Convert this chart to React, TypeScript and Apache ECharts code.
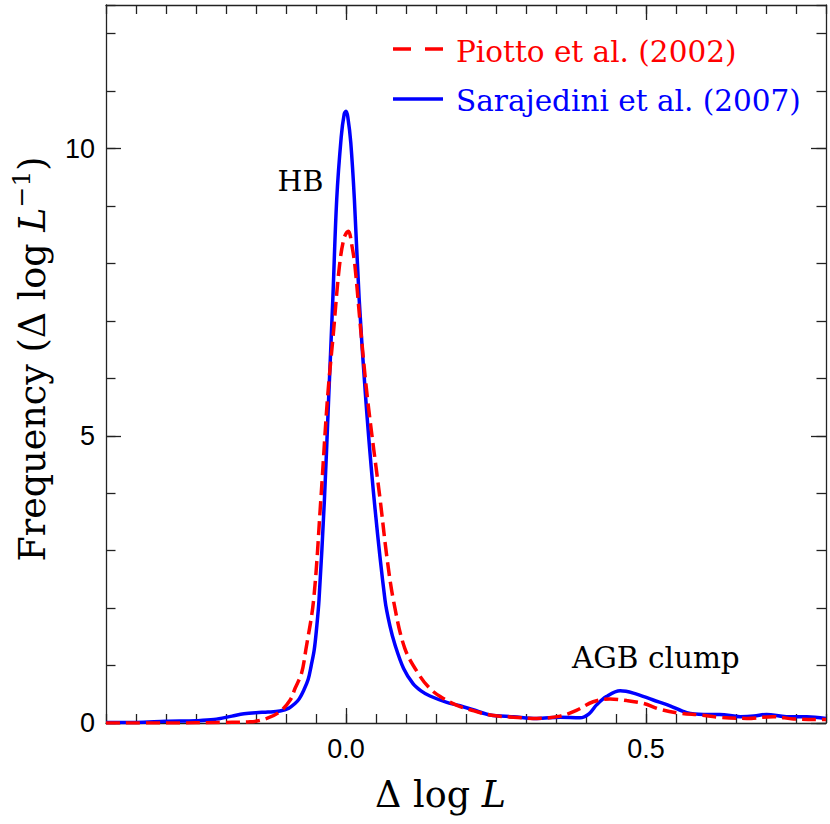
import React, { useEffect, useRef } from "react";
import * as echarts from "echarts";

// Sarajedini et al. (2007) — blue solid
const sarajediniX = [-0.40, -0.35, -0.30, -0.25, -0.22, -0.19, -0.17, -0.15, -0.13, -0.11, -0.095, -0.085, -0.078, -0.07, -0.063, -0.058, -0.053, -0.049, -0.045, -0.036, -0.029, -0.022, -0.0155, -0.008, -0.003, 0.0, 0.003, 0.008, 0.014, 0.022, 0.033, 0.047, 0.065, 0.073, 0.082, 0.096, 0.112, 0.125, 0.14, 0.168, 0.19, 0.212, 0.24, 0.279, 0.318, 0.357, 0.39, 0.405, 0.418, 0.434, 0.457, 0.479, 0.512, 0.54, 0.568, 0.596, 0.623, 0.657, 0.68, 0.701, 0.734, 0.768, 0.80];
const sarajediniY = [0.01, 0.01, 0.03, 0.04, 0.06, 0.12, 0.16, 0.18, 0.19, 0.21, 0.26, 0.34, 0.42, 0.58, 0.76, 1.0, 1.27, 1.65, 2.14, 3.88, 5.63, 7.37, 9.11, 10.2, 10.6, 10.65, 10.55, 10.1, 9.11, 7.37, 5.63, 3.88, 2.14, 1.7, 1.35, 0.95, 0.68, 0.56, 0.47, 0.36, 0.30, 0.23, 0.14, 0.11, 0.08, 0.10, 0.09, 0.16, 0.32, 0.46, 0.56, 0.52, 0.40, 0.30, 0.18, 0.15, 0.15, 0.11, 0.12, 0.15, 0.11, 0.11, 0.08];

// Piotto et al. (2002) — red dashed
const piottoX = [-0.40, -0.30, -0.20, -0.16, -0.132, -0.11, -0.093, -0.085, -0.074, -0.067, -0.054, -0.042, -0.031, -0.021, -0.011, -0.003, 0.004, 0.010, 0.015, 0.025, 0.036, 0.057, 0.068, 0.079, 0.098, 0.123, 0.14, 0.157, 0.184, 0.207, 0.24, 0.279, 0.318, 0.357, 0.384, 0.412, 0.44, 0.468, 0.496, 0.523, 0.557, 0.59, 0.623, 0.668, 0.712, 0.746, 0.79, 0.80];
const piottoY = [0.0, 0.0, 0.01, 0.02, 0.08, 0.2, 0.40, 0.6, 0.87, 1.27, 2.14, 3.88, 5.63, 6.79, 7.95, 8.45, 8.56, 8.3, 7.95, 6.79, 5.63, 3.88, 2.9, 2.14, 1.3, 0.82, 0.6, 0.46, 0.31, 0.23, 0.14, 0.10, 0.08, 0.12, 0.22, 0.37, 0.42, 0.39, 0.34, 0.24, 0.17, 0.14, 0.10, 0.08, 0.11, 0.07, 0.06, 0.06];

const xMajorTicks = [0, 0.5];
const yMajorTicks = [0, 5, 10];
const legendNames = ["Piotto et al. (2002)", "Sarajedini et al. (2007)"];
const annotations = ["HB", "AGB clump"];

const SERIF = "DejaVu Serif";
const SANS = "Liberation Sans";
const AXIS_COLOR = "#222";

export default function App() {
  const ref = useRef<HTMLDivElement>(null);
  useEffect(() => {
    if (!ref.current) return;
    const chart = echarts.init(ref.current, null, { renderer: "svg" });
    const lineStyle = { color: AXIS_COLOR, width: 1.3 };
    const xBase = { type: "value", min: -0.4, max: 0.8, splitLine: { show: false } };
    const yBase = { type: "value", min: 0, max: 12.5, splitLine: { show: false } };
    const blueData = sarajediniX.map((x, i) => [x, sarajediniY[i]]);
    const redData = piottoX.map((x, i) => [x, piottoY[i]]);
    chart.setOption({
      animation: false,
      backgroundColor: "#fff",
      grid: { left: 106, right: 4, top: 5, bottom: 101, containLabel: false },
      xAxis: [
        {
          ...xBase, position: "bottom",
          axisLine: { show: true, onZero: false, lineStyle },
          axisTick: { show: true, inside: true, length: 15, customValues: xMajorTicks, lineStyle },
          axisLabel: { show: true, customValues: xMajorTicks, formatter: (v: number) => v.toFixed(1), fontSize: 27, fontFamily: SANS, color: "#000", margin: 12 },
        },
        {
          ...xBase, position: "bottom", interval: 0.05,
          axisLine: { show: false, onZero: false },
          axisTick: { show: true, inside: true, length: 9, lineStyle },
          axisLabel: { show: false },
        },
        {
          ...xBase, position: "top",
          axisLine: { show: true, onZero: false, lineStyle },
          axisTick: { show: true, inside: true, length: 15, customValues: xMajorTicks, lineStyle },
          axisLabel: { show: false },
        },
        {
          ...xBase, position: "top", interval: 0.05,
          axisLine: { show: false, onZero: false },
          axisTick: { show: true, inside: true, length: 9, lineStyle },
          axisLabel: { show: false },
        },
      ],
      yAxis: [
        {
          ...yBase, position: "left",
          axisLine: { show: true, onZero: false, lineStyle },
          axisTick: { show: true, inside: true, length: 15, customValues: yMajorTicks, lineStyle },
          axisLabel: { show: true, customValues: yMajorTicks, formatter: (v: number) => String(v), fontSize: 27, fontFamily: SANS, color: "#000", margin: 11 },
        },
        {
          ...yBase, position: "left", interval: 1,
          axisLine: { show: false, onZero: false },
          axisTick: { show: true, inside: true, length: 9.5, lineStyle },
          axisLabel: { show: false },
        },
        {
          ...yBase, position: "right",
          axisLine: { show: true, onZero: false, lineStyle },
          axisTick: { show: true, inside: true, length: 15, customValues: yMajorTicks, lineStyle },
          axisLabel: { show: false },
        },
        {
          ...yBase, position: "right", interval: 1,
          axisLine: { show: false, onZero: false },
          axisTick: { show: true, inside: true, length: 9.5, lineStyle },
          axisLabel: { show: false },
        },
      ],
      series: [
        {
          name: legendNames[1], type: "line", xAxisIndex: 0, yAxisIndex: 0,
          data: blueData, showSymbol: false, symbol: "none", smooth: 0.35,
          lineStyle: { color: "#0000ff", width: 3.5 }, z: 3,
        },
        {
          name: legendNames[0], type: "line", xAxisIndex: 0, yAxisIndex: 0,
          data: redData, showSymbol: false, symbol: "none", smooth: 0.35,
          lineStyle: { color: "#ff0000", width: 3.5, type: [14, 6] }, z: 4,
        },
      ],
      graphic: [
        { type: "line", shape: { x1: 393, y1: 49, x2: 443, y2: 49 }, style: { stroke: "#ff0000", lineWidth: 3.5, lineDash: [18, 14] } },
        { type: "line", shape: { x1: 393, y1: 99, x2: 443, y2: 99 }, style: { stroke: "#0000ff", lineWidth: 3.5 } },
        { type: "text", x: 456, y: 51.5, style: { text: legendNames[0], fill: "#ff0000", fontSize: 29.5, fontFamily: SERIF, textAlign: "left", textVerticalAlign: "middle" } },
        { type: "text", x: 456, y: 100.5, style: { text: legendNames[1], fill: "#0000ff", fontSize: 29.5, fontFamily: SERIF, textAlign: "left", textVerticalAlign: "middle" } },
        { type: "text", x: 300.5, y: 181.7, style: { text: annotations[0], fill: "#000", fontSize: 28.5, fontFamily: SERIF, textAlign: "center", textVerticalAlign: "middle" } },
        { type: "text", x: 572, y: 658, style: { text: annotations[1], fill: "#000", fontSize: 29.5, fontFamily: SERIF, textAlign: "left", textVerticalAlign: "middle" } },
        {
          type: "text", x: 440.5, y: 794,
          style: {
            text: "{a|Δ log }{i|L}", textAlign: "center", textVerticalAlign: "middle",
            rich: {
              a: { fontSize: 36.5, fontFamily: SERIF, fill: "#000", color: "#000" },
              i: { fontSize: 36.5, fontFamily: SERIF, fontStyle: "italic", fill: "#000", color: "#000" },
            },
          },
        },
        {
          type: "text", x: 32, y: 359, rotation: Math.PI / 2,
          style: {
            text: "{a|Frequency (Δ log }{i|L}{s|−1}{a|)}", textAlign: "center", textVerticalAlign: "middle",
            rich: {
              a: { fontSize: 36.5, fontFamily: SERIF, fill: "#000", color: "#000", lineHeight: 46 },
              i: { fontSize: 36.5, fontFamily: SERIF, fontStyle: "italic", fill: "#000", color: "#000", lineHeight: 46 },
              s: { fontSize: 25, fontFamily: SERIF, fill: "#000", color: "#000", verticalAlign: "top", lineHeight: 25 },
            },
          },
        },
      ],
    });
    return () => chart.dispose();
  }, []);
  return (
    <div
      ref={ref}
      style={{ position: "fixed", left: 0, top: 0, width: 830, height: 824, background: "#fff" }}
    />
  );
}
